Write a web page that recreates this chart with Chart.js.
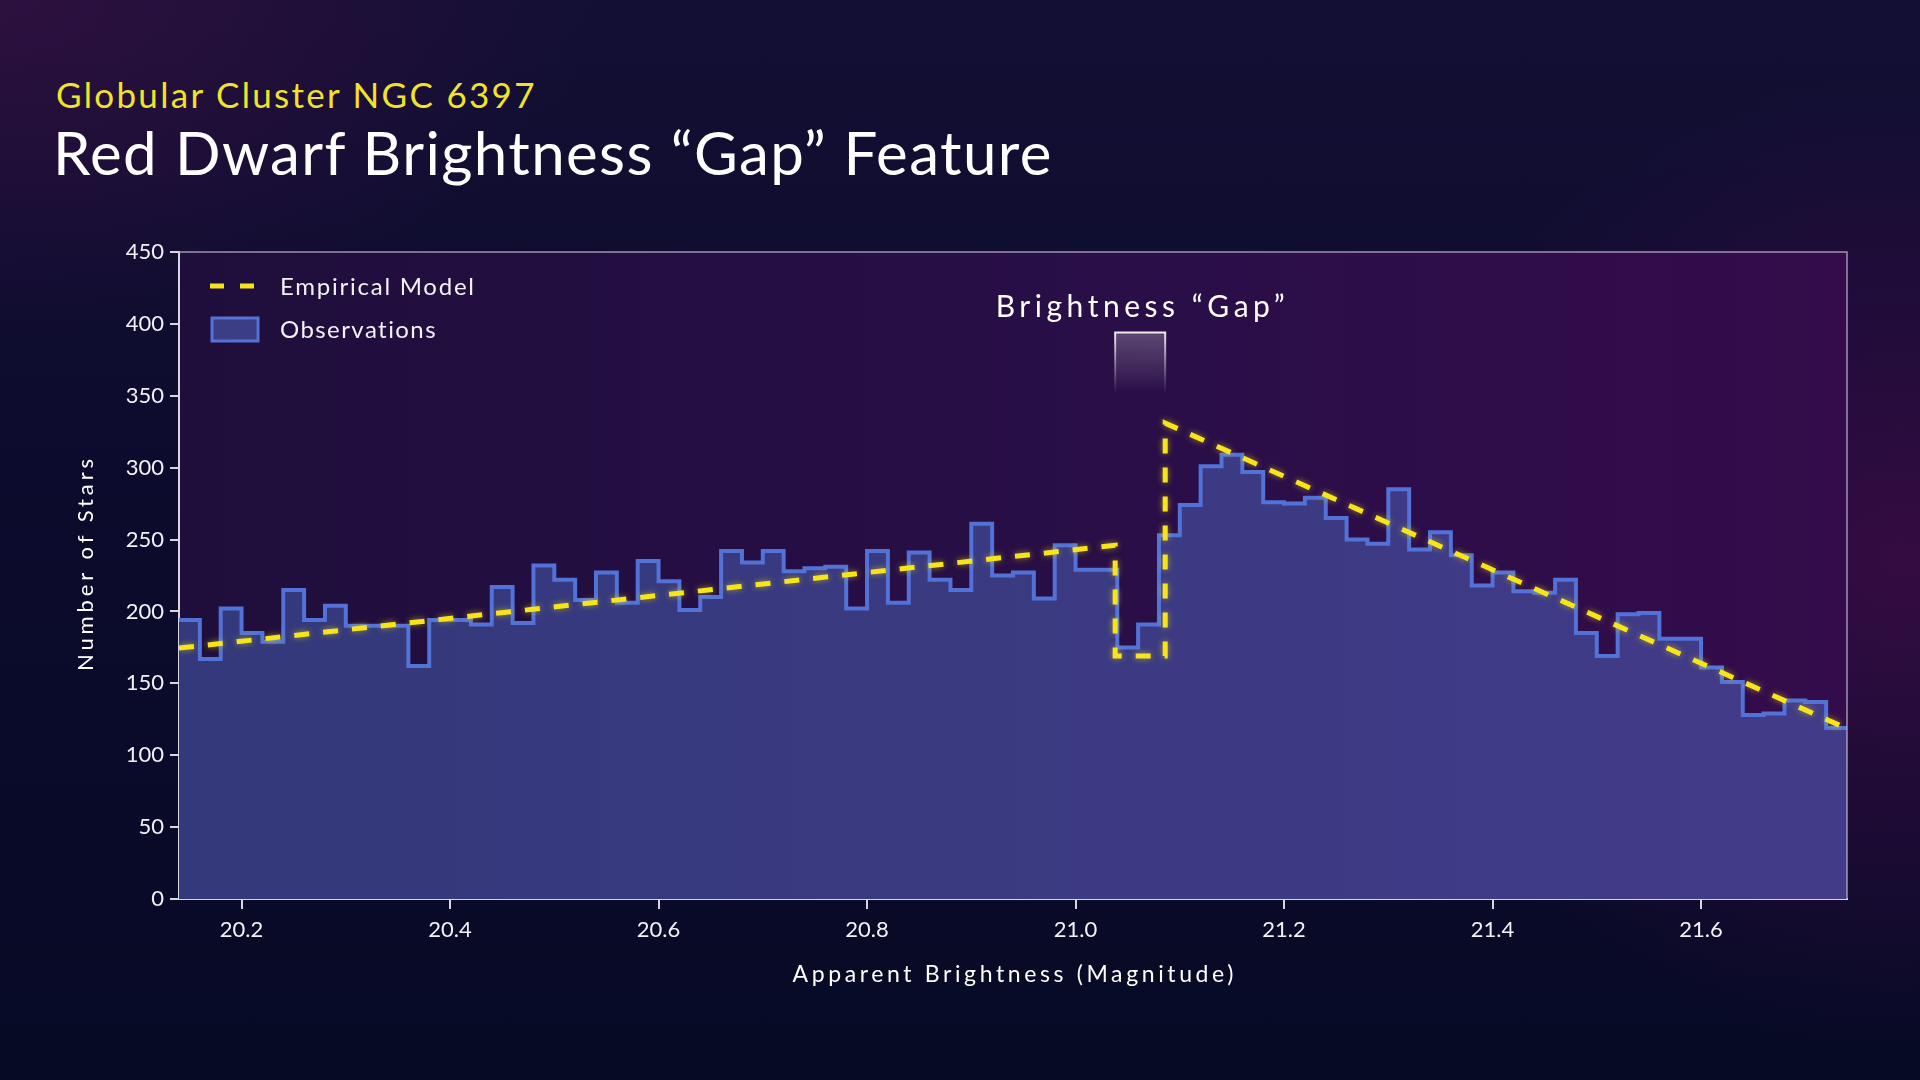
<!DOCTYPE html>
<html><head><meta charset="utf-8">
<script src="https://cdn.jsdelivr.net/npm/chart.js@4.4.1/dist/chart.umd.min.js"></script>
<style>
html,body{margin:0;padding:0;width:1920px;height:1080px;overflow:hidden;}
body{
 background:
  radial-gradient(ellipse 700px 650px at 1900px 560px, rgba(62,12,72,0.8), rgba(62,12,72,0) 75%),
  radial-gradient(ellipse 800px 450px at 0px 0px, rgba(48,16,64,0.9), rgba(48,16,64,0) 75%),
  linear-gradient(180deg,#130f34 0%, #0c0b2d 45%, #070a25 100%);
 font-family: Lato, sans-serif;}
#sub{position:absolute;left:56px;top:77px;font-size:35px;line-height:35px;color:#f1e22c;letter-spacing:2.3px;white-space:nowrap;}
#title{position:absolute;left:53px;top:122px;font-size:60px;line-height:60px;color:#ffffff;letter-spacing:1.4px;white-space:nowrap;}
#wrap{position:absolute;left:0;top:0;width:1920px;height:1080px;}
</style></head><body>
<div id="sub">Globular Cluster NGC 6397</div>
<div id="title">Red Dwarf Brightness “Gap” Feature</div>
<div id="wrap"><canvas id="c"></canvas></div>
<script>
// ---------- data ----------
const binStart = 20.14;
const binWidth = 0.02;
const xMin = 20.14, xMax = 21.74;
const observedCounts = [
 194,167,202,185,179,215,194,204,190,190,
 190,162,194,194,191,217,192,232,222,208,
 227,206,235,221,201,210,242,234,242,228,
 230,231,202,242,206,241,222,215,261,225,
 227,209,246,229,229,175,191,253,274,301,
 309,297,276,275,279,265,250,247,285,243,
 255,239,218,227,214,213,222,185,169,198,
 199,181,181,161,151,128,129,138,137,119
];
const binEdges = observedCounts.map((_, i) => +(binStart + i * binWidth).toFixed(2)).concat([xMax]);
const modelMag   = [20.14, 21.038, 21.038, 21.086, 21.086, 21.74];
const modelStars = [174.5, 246,    169,    169,    331,    118.5];
const xTickValues = [20.2, 20.4, 20.6, 20.8, 21.0, 21.2, 21.4, 21.6];
const yTickValues = [0, 50, 100, 150, 200, 250, 300, 350, 400, 450];
const gapMag = [21.038, 21.086];
const gapBoxStars = [352, 394];
const labels = {
  xTitle: 'Apparent Brightness (Magnitude)',
  yTitle: 'Number of Stars',
  model: 'Empirical Model',
  obs: 'Observations',
  gap: 'Brightness “Gap”'
};

const histPoints = binEdges.map((x, i) => ({x, y: observedCounts[Math.min(i, observedCounts.length - 1)]}));
const modelPoints = modelMag.map((x, i) => ({x, y: modelStars[i]}));

const YELLOW = '#f7e51c';
const OUTLINE = '#5272d8';
const FONT = 'Lato, "Noto Sans", sans-serif';

function spacedText(ctx, text, x, y, size, width, align) {
  ctx.font = size + 'px ' + FONT;
  ctx.letterSpacing = '0px';
  const n = [...text].length;
  const nat = ctx.measureText(text).width;
  const sp = n > 1 ? (width - nat) / (n - 1) : 0;
  ctx.letterSpacing = sp + 'px';
  ctx.textAlign = 'left';
  const x0 = align === 'center' ? x - width / 2 : x;
  ctx.fillText(text, x0, y);
  ctx.letterSpacing = '0px';
}

const decor = {
  id: 'decor',
  beforeDraw(chart) {
    const {ctx, chartArea: a} = chart;
    const g = ctx.createLinearGradient(a.left, 0, a.right, 0);
    g.addColorStop(0, '#1f0e3c');
    g.addColorStop(0.6, '#2a0e48');
    g.addColorStop(1, '#340c4b');
    ctx.save();
    ctx.fillStyle = g;
    ctx.fillRect(a.left, a.top, a.right - a.left, a.bottom - a.top);
    ctx.restore();
  },
  beforeDatasetDraw(chart, args) {
    if (args.index === 0) {
      chart.ctx.save();
      chart.ctx.shadowColor = 'rgba(255,235,0,0.55)';
      chart.ctx.shadowBlur = 6;
    }
  },
  afterDatasetDraw(chart, args) {
    if (args.index === 0) chart.ctx.restore();
  },
  afterDraw(chart) {
    const {ctx, chartArea: a, scales: {x, y}} = chart;
    ctx.save();
    // top & right frame
    ctx.strokeStyle = 'rgba(200,190,215,0.75)';
    ctx.lineWidth = 1.5;
    ctx.beginPath();
    ctx.moveTo(a.left, a.top); ctx.lineTo(a.right, a.top); ctx.lineTo(a.right, a.bottom);
    ctx.stroke();

    // gap box
    const gx0 = x.getPixelForValue(gapMag[0]), gx1 = x.getPixelForValue(gapMag[1]);
    const gy0 = y.getPixelForValue(gapBoxStars[1]), gy1 = y.getPixelForValue(gapBoxStars[0]);
    const gf = ctx.createLinearGradient(0, gy0, 0, gy1);
    gf.addColorStop(0, 'rgba(255,255,255,0.24)');
    gf.addColorStop(0.6, 'rgba(255,255,255,0.10)');
    gf.addColorStop(1, 'rgba(255,255,255,0)');
    ctx.fillStyle = gf;
    ctx.fillRect(gx0, gy0, gx1 - gx0, gy1 - gy0);
    const gs = ctx.createLinearGradient(0, gy0, 0, gy1);
    gs.addColorStop(0, 'rgba(255,255,255,0.9)');
    gs.addColorStop(0.5, 'rgba(255,255,255,0.4)');
    gs.addColorStop(1, 'rgba(255,255,255,0)');
    ctx.strokeStyle = gs;
    ctx.lineWidth = 2;
    ctx.beginPath();
    ctx.moveTo(gx0, gy1); ctx.lineTo(gx0, gy0); ctx.lineTo(gx1, gy0); ctx.lineTo(gx1, gy1);
    ctx.stroke();

    // gap label
    ctx.fillStyle = '#ffffff';
    ctx.textBaseline = 'alphabetic';
    spacedText(ctx, labels.gap, (gx0 + gx1) / 2, a.top + 65, 30, 289, 'center');

    // legend
    ctx.strokeStyle = YELLOW;
    ctx.lineWidth = 5;
    ctx.setLineDash([14, 16]);
    ctx.beginPath();
    ctx.moveTo(a.left + 31, a.top + 34); ctx.lineTo(a.left + 75, a.top + 34);
    ctx.stroke();
    ctx.setLineDash([]);
    ctx.fillStyle = '#3b3d85';
    ctx.strokeStyle = OUTLINE;
    ctx.lineWidth = 3;
    ctx.fillRect(a.left + 33, a.top + 66, 46, 23);
    ctx.strokeRect(a.left + 33, a.top + 66, 46, 23);
    ctx.fillStyle = '#f2f2f6';
    spacedText(ctx, labels.model, a.left + 101, a.top + 43, 24, 194, 'left');
    spacedText(ctx, labels.obs, a.left + 101, a.top + 86, 24, 156, 'left');

    // axis titles
    ctx.fillStyle = '#ffffff';
    ctx.textBaseline = 'middle';
    spacedText(ctx, labels.xTitle, (a.left + a.right) / 2, 975, 23, 441, 'center');
    ctx.translate(86, 565);
    ctx.rotate(-Math.PI / 2);
    spacedText(ctx, labels.yTitle, 0, 0, 22, 212, 'center');
    ctx.restore();
  }
};

new Chart(document.getElementById('c'), {
  type: 'line',
  data: {
    datasets: [
      {
        label: labels.model,
        data: modelPoints,
        borderColor: YELLOW,
        borderWidth: 5,
        borderDash: [15, 14],
        pointRadius: 0,
        fill: false,
        tension: 0
      },
      {
        label: labels.obs,
        data: histPoints,
        stepped: true,
        borderColor: OUTLINE,
        borderWidth: 4,
        borderJoinStyle: 'miter',
        pointRadius: 0,
        fill: 'origin',
        backgroundColor: (c) => {
          const a = c.chart.chartArea;
          if (!a) return '#383a80';
          const g = c.chart.ctx.createLinearGradient(a.left, 0, a.right, 0);
          g.addColorStop(0, '#33397a');
          g.addColorStop(1, '#423b89');
          return g;
        }
      }
    ]
  },
  options: {
    responsive: true,
    maintainAspectRatio: false,
    animation: false,
    devicePixelRatio: 1,
    layout: {padding: {left: 60, right: 73, top: 252, bottom: 71}},
    plugins: {legend: {display: false}, tooltip: {enabled: false}},
    scales: {
      x: {
        type: 'linear', min: xMin, max: xMax,
        afterBuildTicks: (s) => { s.ticks = xTickValues.map(v => ({value: v})); },
        afterFit: (s) => { s.height = 110; },
        ticks: {color: '#f2f2f6', font: {family: FONT, size: 22}, padding: 8, autoSkip: false, maxRotation: 0,
                callback: (v) => Number(v).toFixed(1)},
        grid: {display: true, drawOnChartArea: false, drawTicks: true, tickLength: 10, color: '#d6d6de', lineWidth: 2},
        border: {display: true, color: '#d6d6de', width: 2}
      },
      y: {
        type: 'linear', min: 0, max: 450,
        afterBuildTicks: (s) => { s.ticks = yTickValues.map(v => ({value: v})); },
        afterFit: (s) => { s.width = 119; },
        ticks: {color: '#f2f2f6', font: {family: FONT, size: 22}, padding: 6},
        grid: {display: true, drawOnChartArea: false, drawTicks: true, tickLength: 9, color: '#d6d6de', lineWidth: 2},
        border: {display: true, color: '#d6d6de', width: 2}
      }
    }
  },
  plugins: [decor]
});
</script>
</body></html>
